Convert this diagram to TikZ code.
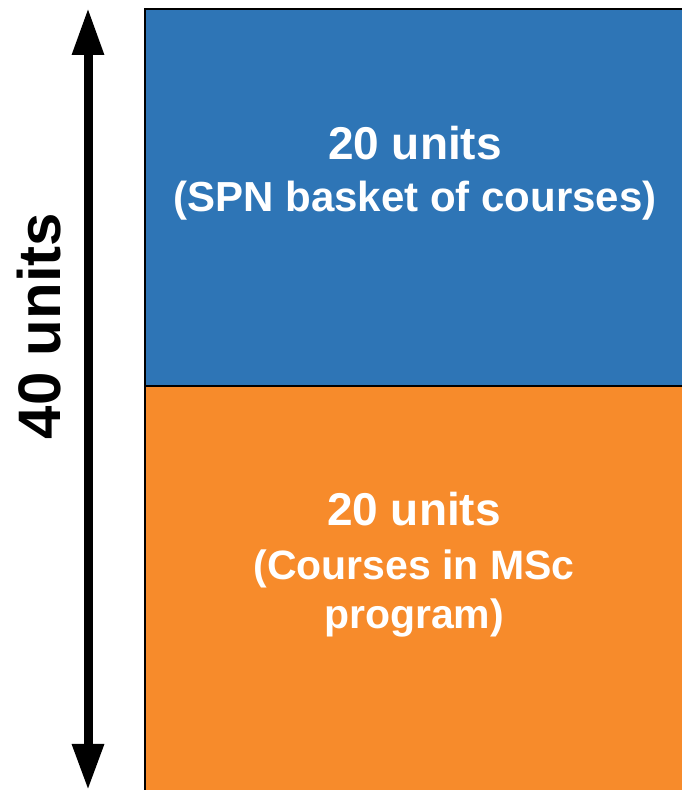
\documentclass[tikz,border=0pt]{standalone}
\usepackage{fontspec}
\setmainfont{Liberation Sans}
\usetikzlibrary{arrows.meta}
\definecolor{spnblue}{RGB}{46,117,182}
\definecolor{mscorange}{RGB}{247,139,43}

\begin{document}
\begin{tikzpicture}[x=1pt,y=1pt]

      \useasboundingbox (0,0) rectangle (681,790);

      \begin{scope}[every node/.style={rectangle,draw=black,line width=2pt,
          anchor=north west,minimum width=580pt,inner sep=0pt}]
        \node[fill=spnblue,minimum height=377pt]   (spn) at (144,782) {};
        \node[fill=mscorange,minimum height=440pt] (msc) at (144,405) {};
      \end{scope}

      \begin{scope}[every node/.style={text=white,anchor=base,inner sep=0pt,font=\bfseries}]
        \node[font=\bfseries\fontsize{46}{46}\selectfont] (spn1) at (415,630) {20 units};
        \node[font=\bfseries\fontsize{42}{42}\selectfont] (spn2) at (415,578) {(SPN basket of courses)};
        \node[font=\bfseries\fontsize{46}{46}\selectfont] (msc1) at (414,264) {20 units};
        \node[font=\bfseries\fontsize{41}{41}\selectfont] (msc2) at (414,210) {(Courses in MSc};
        \node[font=\bfseries\fontsize{41}{41}\selectfont] (msc3) at (414,161) {program)};
      \end{scope}

      \coordinate (top) at (88,782);
      \coordinate (bot) at (88,0);
      \path (top) edge[line width=9pt,{Triangle[length=47pt,width=30pt]}-{Triangle[length=46pt,width=30pt]}] (bot);

      \node[rotate=90,anchor=base,inner sep=0pt,font=\bfseries\fontsize{60}{60}\selectfont] (total) at (60,464) {40 units};

    \end{tikzpicture}
\end{document}
